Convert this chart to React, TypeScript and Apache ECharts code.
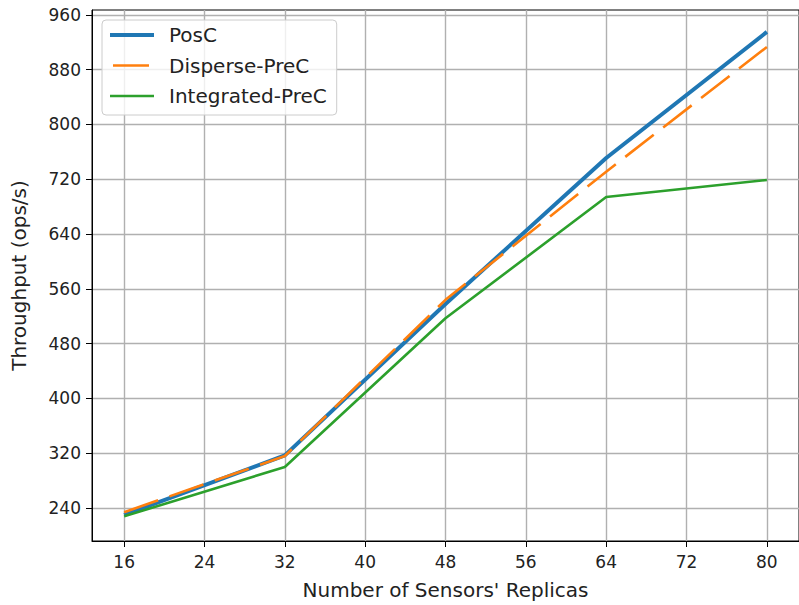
import React, { useEffect, useRef } from "react";
import * as echarts from "echarts";

const replicas = [16, 32, 48, 64, 80];
const posC = [230, 317, 538, 751, 935];
const dispersePreC = [234, 316, 544, 731, 913];
const integratedPreC = [228, 300, 517, 694, 719];
const xTicks = [16, 24, 32, 40, 48, 56, 64, 72, 80];
const yTicks = [240, 320, 400, 480, 560, 640, 720, 800, 880, 960];

const FONT = "DejaVu Sans";

export default function App() {
  const ref = useRef<HTMLDivElement>(null);
  useEffect(() => {
    document.body.style.margin = "0";
    const chart = echarts.init(ref.current!, null, { renderer: "svg" });
    const pair = (ys: number[]) => replicas.map((x, i) => [x, ys[i]]);
    chart.setOption({
      animation: false,
      backgroundColor: "#fff",
      textStyle: { fontFamily: FONT },
      grid: {
        left: 92,
        top: 10,
        right: -6,
        bottom: 64,
        show: true,
        borderColor: "#000",
        borderWidth: 1,
      },
      legend: {
        orient: "vertical",
        left: 102,
        top: 20,
        itemWidth: 44,
        itemHeight: 14,
        itemGap: 8.5,
        padding: [4, 10, 8, 6],
        backgroundColor: "rgba(255,255,255,0.8)",
        borderColor: "#ccc",
        borderWidth: 1,
        borderRadius: 4,
        itemStyle: { opacity: 0 },
        textStyle: {
          fontFamily: FONT,
          fontSize: 20,
          color: "#222",
          lineHeight: 22,
          padding: [0, 0, 0, 10],
        },
        data: [
          { name: "PosC", lineStyle: { width: 4, color: "#1f77b4", type: "solid" } },
          { name: "Disperse-PreC", lineStyle: { width: 2.6, color: "#ff7f0e", type: [36, 12], dashOffset: -3 } },
          { name: "Integrated-PreC", lineStyle: { width: 2.6, color: "#2ca02c", type: "solid" } },
        ],
      },
      xAxis: {
        type: "value",
        min: 12.8,
        max: 83.2,
        name: "Number of Sensors' Replicas",
        nameLocation: "middle",
        nameGap: 39,
        nameTextStyle: { fontFamily: FONT, fontSize: 20, color: "#222" },
        axisLine: { show: true, lineStyle: { color: "#000", width: 1 } },
        axisTick: {
          show: true,
          length: 6,
          customValues: xTicks,
          lineStyle: { color: "#000", width: 1 },
        },
        axisLabel: {
          customValues: xTicks,
          margin: 12,
          fontFamily: FONT,
          fontSize: 17,
          color: "#222",
        },
        splitLine: { show: true, lineStyle: { color: "#b0b0b0", width: 1.4 } },
      },
      yAxis: {
        type: "value",
        min: 192,
        max: 967,
        name: "Throughput (ops/s)",
        nameLocation: "middle",
        nameGap: 63,
        nameTextStyle: { fontFamily: FONT, fontSize: 20, color: "#222" },
        axisLine: { show: true, lineStyle: { color: "#000", width: 1 } },
        axisTick: {
          show: true,
          length: 6,
          customValues: yTicks,
          lineStyle: { color: "#000", width: 1 },
        },
        axisLabel: {
          customValues: yTicks,
          margin: 11,
          fontFamily: FONT,
          fontSize: 17,
          color: "#222",
        },
        splitLine: { show: true, lineStyle: { color: "#b0b0b0", width: 1.4 } },
      },
      series: [
        {
          name: "PosC",
          type: "line",
          data: pair(posC),
          symbol: "none",
          color: "#1f77b4",
          lineStyle: { color: "#1f77b4", width: 4 },
          z: 2,
        },
        {
          name: "Disperse-PreC",
          type: "line",
          data: pair(dispersePreC),
          symbol: "none",
          color: "#ff7f0e",
          lineStyle: { color: "#ff7f0e", width: 2.6, type: [36, 12] },
          z: 3,
        },
        {
          name: "Integrated-PreC",
          type: "line",
          data: pair(integratedPreC),
          symbol: "none",
          color: "#2ca02c",
          lineStyle: { color: "#2ca02c", width: 2.6 },
          z: 4,
        },
      ],
    });
    return () => chart.dispose();
  }, []);
  return <div ref={ref} style={{ width: 799, height: 605 }} />;
}
